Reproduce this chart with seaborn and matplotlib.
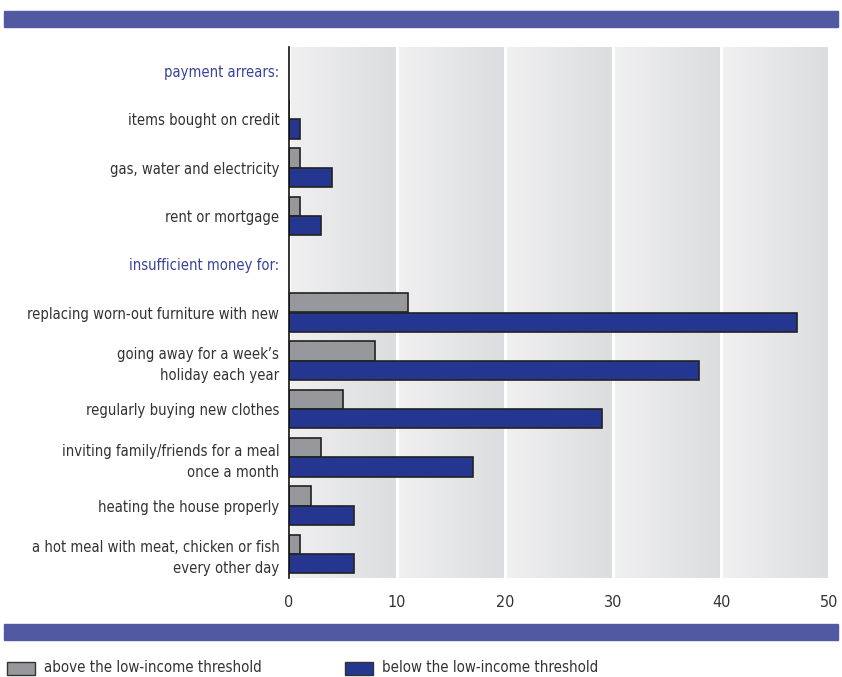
import numpy as np
import pandas as pd
import matplotlib
matplotlib.use("Agg")
import matplotlib.pyplot as plt
import seaborn as sns
from matplotlib.patches import Rectangle

# Categories, top to bottom (two section headers carry no bars)
categories = [
    "payment arrears:",
    "items bought on credit",
    "gas, water and electricity",
    "rent or mortgage",
    "insufficient money for:",
    "replacing worn-out furniture with new",
    "going away for a week\u2019s\nholiday each year",
    "regularly buying new clothes",
    "inviting family/friends for a meal\nonce a month",
    "heating the house properly",
    "a hot meal with meat, chicken or fish\nevery other day",
]
headers = ["payment arrears:", "insufficient money for:"]

# Percentages per group (None for the header rows)
above_threshold = [None, 0, 1, 1, None, 11, 8, 5, 3, 2, 1]
below_threshold = [None, 1, 4, 3, None, 47, 38, 29, 17, 6, 6]

series_names = ["above the low-income threshold", "below the low-income threshold"]
x_ticks = [0, 10, 20, 30, 40, 50]

GRAY = "#97989c"
BLUE = "#253690"
BANNER = "#5159a2"
HEAD = "#3a4399"
TEXT = "#333333"

rows = []
for cat, a, b in zip(categories, above_threshold, below_threshold):
    rows.append({"category": cat, "group": series_names[0], "value": np.nan if a is None else a})
    rows.append({"category": cat, "group": series_names[1], "value": np.nan if b is None else b})
df = pd.DataFrame(rows)

sns.set_theme(style="white")
plt.rcParams["font.family"] = ["DejaVu Sans"]
plt.rcParams["font.stretch"] = "condensed"

fig = plt.figure(figsize=(8.42, 6.77), dpi=100)
ax = fig.add_axes([289 / 842, 1 - 578 / 677, 540 / 842, 531 / 677])

# Gradient background bands between the grid lines
grad = np.linspace(0, 1, 256).reshape(1, -1)
cmap = matplotlib.colors.LinearSegmentedColormap.from_list("band", ["#f0f0f1", "#dcdddf"])
for lo in range(0, 50, 10):
    ax.imshow(grad, cmap=cmap, aspect="auto", extent=(lo + 0.15, lo + 10 - 0.15, 10.5, -0.5),
              zorder=0, interpolation="bilinear")

sns.barplot(data=df, y="category", x="value", hue="group", order=categories,
            hue_order=series_names, palette=[GRAY, BLUE], orient="h",
            width=0.8, edgecolor="#222222", linewidth=1.2, saturation=1,
            errorbar=None, legend=False, ax=ax, zorder=2)

ax.set_xlim(0, 50)
ax.set_ylim(10.5, -0.5)
ax.set_xticks(x_ticks)
ax.set_xticklabels([str(t) for t in x_ticks])
ax.set_xlabel("")
ax.set_ylabel("")
ax.tick_params(axis="both", length=0, labelsize=10.6, colors=TEXT)
ax.tick_params(axis="x", labelsize=11.5, pad=12)
ax.tick_params(axis="y", pad=7)
for lbl in ax.get_yticklabels():
    lbl.set_multialignment("right")
    lbl.set_linespacing(1.5)
    if lbl.get_text() in headers:
        lbl.set_color(HEAD)

for side in ["top", "right", "bottom"]:
    ax.spines[side].set_visible(False)
ax.spines["left"].set_color("#111111")
ax.spines["left"].set_linewidth(1.2)
ax.spines["left"].set_zorder(3)
ax.grid(False)

# Banners above and below the chart
fig.patches.append(Rectangle((4 / 842, 1 - 27 / 677), 834 / 842, 16 / 677,
                             transform=fig.transFigure, color=BANNER, zorder=0))
fig.patches.append(Rectangle((4 / 842, 1 - 640 / 677), 834 / 842, 16 / 677,
                             transform=fig.transFigure, color=BANNER, zorder=0))

# Legend
for x0, color, name in [(7, GRAY, series_names[0]), (345, BLUE, series_names[1])]:
    fig.patches.append(Rectangle((x0 / 842, 1 - 675 / 677), 28 / 842, 13 / 677,
                                 transform=fig.transFigure, facecolor=color,
                                 edgecolor="#333333", linewidth=1.0))
    fig.text((x0 + 37) / 842, 1 - 668 / 677, name, ha="left", va="center",
             fontsize=10.8, color=TEXT)

fig.savefig("out.png", dpi=100, facecolor="white")
